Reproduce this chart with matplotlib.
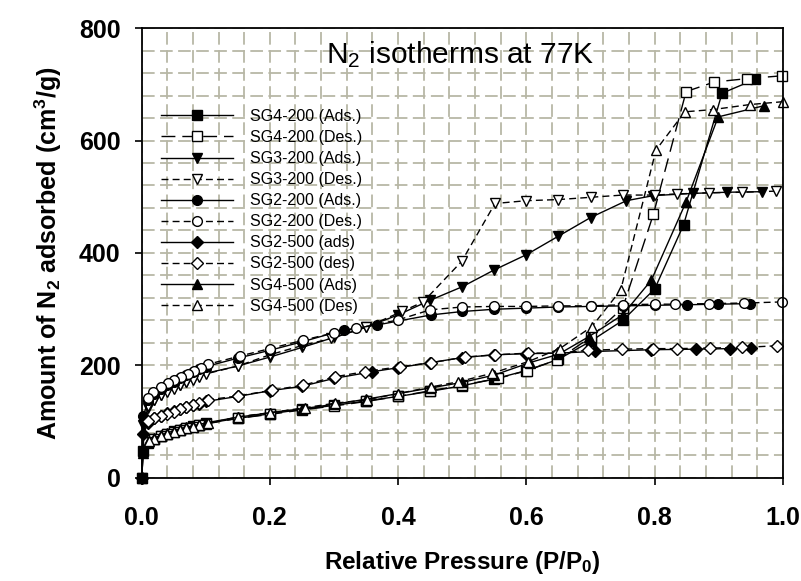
import matplotlib
matplotlib.use("Agg")
import matplotlib.pyplot as plt
from matplotlib.ticker import MultipleLocator

plt.rcParams['font.family'] = ['Liberation Sans', 'DejaVu Sans']
plt.rcParams['mathtext.default'] = 'regular'

# values (P/P0, cm3/g)
sg4_200_ads_x = [0.0, 0.003, 0.01, 0.02, 0.03, 0.04, 0.05, 0.06, 0.07, 0.08, 0.09, 0.10, 0.15, 0.20, 0.25,
                 0.30, 0.35, 0.40, 0.45, 0.50, 0.55, 0.60, 0.65, 0.70, 0.75, 0.80, 0.845, 0.905, 0.957]
sg4_200_ads_y = [0, 48, 62, 70, 75, 79, 83, 86, 89, 92, 95, 97, 106, 114, 122,
                 129, 137, 145, 154, 164, 176, 191, 211, 243, 280, 336, 450, 684, 709]
sg4_200_des_x = [0.998, 0.944, 0.893, 0.849, 0.798, 0.75, 0.70, 0.648, 0.601, 0.556, 0.50, 0.45, 0.40, 0.35,
                 0.30, 0.25, 0.20, 0.15, 0.10, 0.09, 0.08, 0.07, 0.06, 0.05, 0.04, 0.03, 0.02, 0.01]
sg4_200_des_y = [715, 710, 704, 687, 469, 302, 250, 210, 191, 177, 165, 155, 145, 136,
                 128, 121, 113, 106, 96, 94, 91, 88, 85, 81, 78, 74, 70, 64]

sg3_200_ads_x = [0.0, 0.003, 0.01, 0.02, 0.03, 0.04, 0.05, 0.06, 0.07, 0.08, 0.09, 0.10, 0.15, 0.20, 0.25,
                 0.30, 0.35, 0.40, 0.45, 0.50, 0.55, 0.60, 0.65, 0.70, 0.756, 0.798, 0.86, 0.912, 0.967]
sg3_200_ads_y = [0, 95, 125, 138, 147, 154, 160, 166, 171, 176, 181, 186, 199, 215, 232,
                 250, 268, 290, 316, 340, 370, 397, 430, 463, 493, 502, 506, 508, 509]
sg3_200_des_x = [0.989, 0.936, 0.884, 0.835, 0.80, 0.75, 0.70, 0.65, 0.60, 0.551, 0.499, 0.439, 0.406, 0.35,
                 0.296, 0.252, 0.20, 0.15, 0.10, 0.09, 0.08, 0.07, 0.06, 0.05, 0.04, 0.03, 0.02, 0.01]
sg3_200_des_y = [510, 508, 507, 505, 503, 503, 499, 495, 493, 488, 385, 313, 296, 268,
                 248, 236, 219, 199, 185, 180, 175, 170, 165, 159, 153, 147, 139, 128]

sg2_200_ads_x = [0.0, 0.003, 0.01, 0.02, 0.03, 0.04, 0.05, 0.06, 0.07, 0.08, 0.09, 0.10, 0.15, 0.20,
                 0.25, 0.315, 0.367, 0.452, 0.50, 0.55, 0.60, 0.65, 0.70, 0.75, 0.80, 0.85, 0.899, 0.949]
sg2_200_ads_y = [0, 110, 138, 150, 158, 165, 171, 177, 183, 188, 193, 198, 213, 227,
                 242, 263, 272, 290, 296, 300, 302, 304, 305, 306, 307, 308, 309, 310]
sg2_200_des_x = [0.998, 0.939, 0.884, 0.832, 0.80, 0.75, 0.70, 0.65, 0.60, 0.55, 0.50, 0.45, 0.40, 0.335,
                 0.30, 0.252, 0.20, 0.154, 0.103, 0.093, 0.082, 0.072, 0.062, 0.051, 0.041, 0.03, 0.018, 0.01]
sg2_200_des_y = [313, 311, 310, 309, 309, 308, 306, 306, 305, 305, 304, 299, 281, 266,
                 258, 245, 230, 217, 202, 196, 191, 185, 180, 174, 168, 162, 153, 143]

sg2_500_ads_x = [0.0, 0.003, 0.01, 0.02, 0.03, 0.04, 0.05, 0.06, 0.07, 0.08, 0.09, 0.10, 0.15, 0.20,
                 0.25, 0.30, 0.36, 0.40, 0.45, 0.50, 0.55, 0.60, 0.65, 0.707, 0.795, 0.864, 0.917, 0.95]
sg2_500_ads_y = [0, 78, 98, 106, 111, 115, 119, 123, 126, 129, 132, 136, 145, 155,
                 163, 177, 189, 196, 205, 214, 219, 221, 222, 225, 228, 229, 230, 231]
sg2_500_des_x = [0.99, 0.936, 0.886, 0.835, 0.798, 0.749, 0.696, 0.649, 0.603, 0.551, 0.504, 0.452, 0.403, 0.348,
                 0.302, 0.252, 0.203, 0.151, 0.104, 0.09, 0.08, 0.07, 0.06, 0.05, 0.04, 0.03, 0.02, 0.01]
sg2_500_des_y = [235, 232, 231, 230, 230, 229, 227, 222, 222, 219, 215, 205, 198, 189,
                 180, 165, 156, 146, 139, 134, 130, 126, 122, 118, 114, 110, 106, 102]

sg4_500_ads_x = [0.0, 0.003, 0.01, 0.02, 0.03, 0.04, 0.05, 0.06, 0.07, 0.08, 0.09, 0.10, 0.15, 0.20, 0.25,
                 0.30, 0.35, 0.40, 0.45, 0.50, 0.55, 0.605, 0.65, 0.697, 0.75, 0.795, 0.849, 0.899, 0.971]
sg4_500_ads_y = [0, 45, 64, 71, 76, 80, 84, 87, 90, 93, 95, 98, 108, 116, 123,
                 131, 140, 150, 160, 170, 183, 205, 220, 251, 290, 352, 491, 642, 662]
sg4_500_des_x = [1.0, 0.949, 0.891, 0.847, 0.802, 0.747, 0.702, 0.652, 0.603, 0.546, 0.494, 0.452, 0.40, 0.351,
                 0.302, 0.255, 0.20, 0.151, 0.104, 0.09, 0.08, 0.07, 0.06, 0.05, 0.04, 0.03, 0.02, 0.011]
sg4_500_des_y = [669, 664, 655, 651, 583, 334, 269, 230, 207, 186, 171, 162, 150, 139,
                 133, 125, 116, 109, 97, 94, 91, 88, 85, 81, 78, 74, 70, 65]

series = [
    (sg4_200_ads_x, sg4_200_ads_y, 'SG4-200 (Ads.)', 's', True, None),
    (sg4_200_des_x, sg4_200_des_y, 'SG4-200 (Des.)', 's', False, (10, 5)),
    (sg3_200_ads_x, sg3_200_ads_y, 'SG3-200 (Ads.)', 'v', True, None),
    (sg3_200_des_x, sg3_200_des_y, 'SG3-200 (Des.)', 'v', False, (5, 3)),
    (sg2_200_ads_x, sg2_200_ads_y, 'SG2-200 (Ads.)', 'o', True, None),
    (sg2_200_des_x, sg2_200_des_y, 'SG2-200 (Des.)', 'o', False, (5, 3)),
    (sg2_500_ads_x, sg2_500_ads_y, 'SG2-500 (ads)', 'D', True, None),
    (sg2_500_des_x, sg2_500_des_y, 'SG2-500 (des)', 'D', False, (5, 3)),
    (sg4_500_ads_x, sg4_500_ads_y, 'SG4-500 (Ads)', '^', True, None),
    (sg4_500_des_x, sg4_500_des_y, 'SG4-500 (Des)', '^', False, (5, 3)),
]

fig = plt.figure(figsize=(8.01, 5.81), dpi=100)
ax = fig.add_axes([0.1767, 0.1773, 0.8008, 0.7745])

for x, y, name, mk, filled, dash in series:
    ms = 7 if mk != 'D' else 6
    line, = ax.plot(x, y, marker=mk, ms=ms, color='black', lw=1.0, mew=1.0,
                    mfc='black' if filled else 'white', label=name, clip_on=False)
    if dash is not None:
        line.set_dashes(dash)

ax.set_xlim(0, 1.0)
ax.set_ylim(0, 800)
ax.xaxis.set_major_locator(MultipleLocator(0.2))
ax.yaxis.set_major_locator(MultipleLocator(200))
ax.xaxis.set_minor_locator(MultipleLocator(0.04))
ax.yaxis.set_minor_locator(MultipleLocator(40))
ax.grid(which='both', color='#b8b7a6', lw=1.3, dashes=(7, 3))
ax.set_axisbelow(True)
ax.tick_params(which='major', direction='out', length=5, width=1.2)
ax.tick_params(which='minor', length=0)
ax.tick_params(axis='x', pad=15)
ax.tick_params(axis='y', pad=10)
for s in ax.spines.values():
    s.set_linewidth(1.3)

ax.set_xticklabels([f'{v:.1f}' for v in ax.get_xticks()])
for lab in ax.get_xticklabels() + ax.get_yticklabels():
    lab.set_fontsize(18)
    lab.set_fontweight('bold')

ax.set_xlabel('Relative Pressure (P/P$_0$)', fontsize=17.5, fontweight='bold', labelpad=14)
ax.set_ylabel('Amount of N$_2$ adsorbed (cm$^3$/g)', fontsize=18, fontweight='bold', labelpad=11)

ax.text(0.497, 752, 'N$_2$ isotherms at 77K', fontsize=21.5, ha='center', va='center')

ax.legend(loc='upper left', bbox_to_anchor=(0.03, 0.82), frameon=False, fontsize=11.5,
          handlelength=4.5, handletextpad=1.1, labelspacing=0.38, borderpad=0, borderaxespad=0)

fig.savefig('out.png', dpi=100)
